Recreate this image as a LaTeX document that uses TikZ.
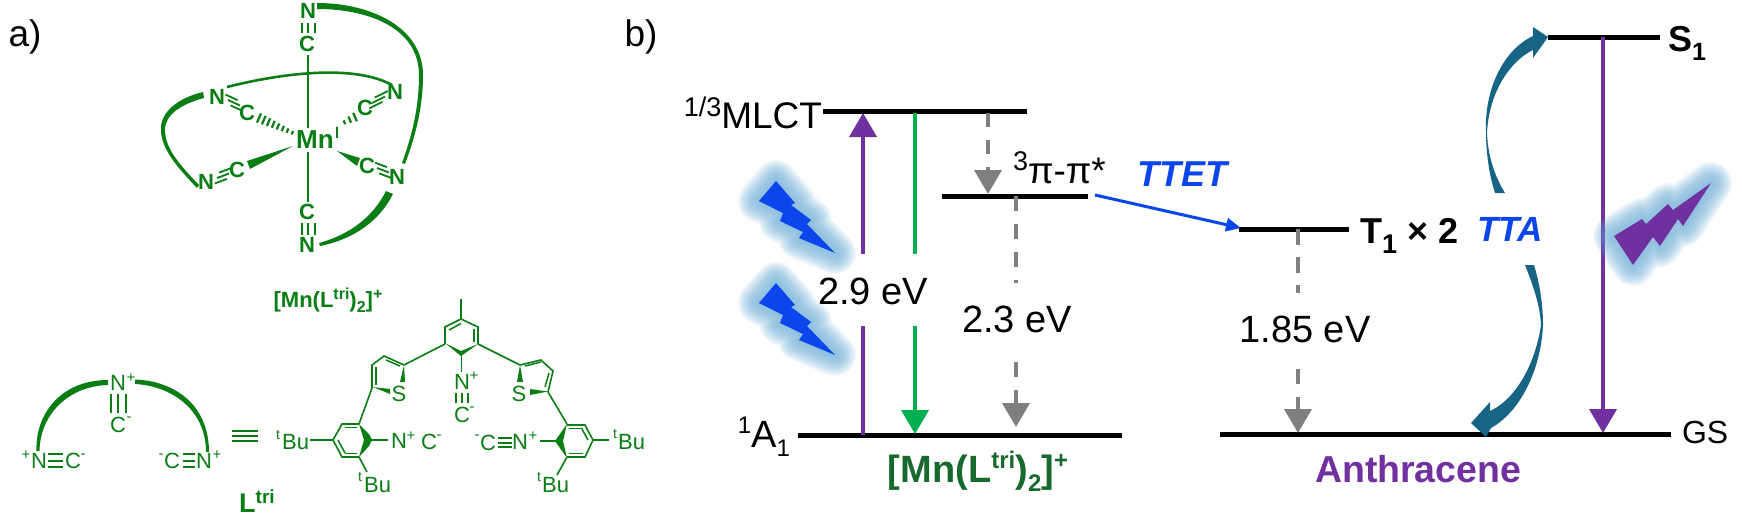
\documentclass[tikz,border=0pt]{standalone}
\usepackage{fontspec}
\setmainfont{Liberation Sans}
\usetikzlibrary{arrows.meta}
\newcommand{\fsz}[1]{\fontsize{#1}{#1}\selectfont}
\definecolor{chem}{RGB}{10,125,20}
\definecolor{mnlab}{RGB}{24,105,45}
\definecolor{vio}{RGB}{112,48,160}
\definecolor{grn}{RGB}{0,176,80}
\definecolor{gry}{RGB}{127,127,127}
\definecolor{blu}{RGB}{10,70,235}
\definecolor{teal2}{RGB}{24,100,132}
\definecolor{glowc}{RGB}{95,165,210}
\newcommand{\glowbolt}[2]{%
  \foreach \w in {42,39,36,33,30,27,24,21,18,14,10,6}{\draw[glowc,opacity=.09,line width=\w pt,line join=round] #1;}
  \fill[#2] #1;}
\tikzset{
  lab/.style={inner sep=0,outer sep=0,font=\fsz{38}},
  levelline/.style={line width=5pt,black},
  cnatom/.style={inner sep=0,text=chem,font=\bfseries\fsz{22}},
  atm/.style={inner sep=0,text=chem,font=\fsz{22}},
  chsup/.style={inner sep=0,text=chem,font=\fsz{15}},
  cb/.style={chem,line width=2.2pt},
  tpl/.style={chem,line width=1.8pt},
  rb/.style={chem,line width=1.6pt},
  tb/.style={chem,line width=1.5pt},
  wdg/.style={fill=chem,draw=none},
  upl/.style={line width=4pt},
  dsh/.style={line width=4pt,gry,dash pattern=on 15pt off 13pt},
  headd/.style={-{Triangle[length=24pt,width=27pt]}},
}
\begin{document}
\begin{tikzpicture}[x=1pt,y=-1pt]
\useasboundingbox (0,0) rectangle (1750,515);
% ---------- panel labels
\node[lab,font=\fsz{37}] (la) at (25,37) {a)};
\node[lab,font=\fsz{37}] (lb) at (641,37) {b)};
% ---------- complex
\node[cnatom] (Ntop) at (308,11) {N};
\node[cnatom] (Ctop) at (307,44) {C};
\node[cnatom] (Cbot) at (307,212) {C};
\node[cnatom] (Nbot) at (307,245) {N};
\node[cnatom] (Nul) at (217,97) {N};
\node[cnatom] (Cul) at (247,113) {C};
\node[cnatom] (Nur) at (395,92) {N};
\node[cnatom] (Cur) at (365,108) {C};
\node[cnatom] (Nll) at (206,182) {N};
\node[cnatom] (Cll) at (237,170) {C};
\node[cnatom] (Clr) at (367,166) {C};
\node[cnatom] (Nlr) at (397,177) {N};
\node[cnatom,font=\bfseries\fsz{26}] (Mn) at (315,140) {Mn};
\node[cnatom,font=\fsz{15}] (MnI) at (337,132) {I};
% M-C axial
\draw[cb] (308,55) -- (308,128);
\draw[cb] (308,152) -- (308,202);
\foreach \x in {302,308,315}{\draw[tpl] (\x,23) -- (\x,33); \draw[tpl] (\x,223) -- (\x,235);}
% triple bonds
\foreach \o in {-6,0,6}{
 \draw[tpl] ([xshift=.42*\o,yshift=-.9*\o]228,100) -- ([xshift=.42*\o,yshift=-.9*\o]240,105.5);
 \draw[tpl] ([xshift=.45*\o,yshift=.9*\o]372,103) -- ([xshift=.45*\o,yshift=.9*\o]385,96.5);
 \draw[tpl] ([xshift=.35*\o,yshift=.9*\o]217,178) -- ([xshift=.35*\o,yshift=.9*\o]229,173.5);
 \draw[tpl] ([xshift=-.35*\o,yshift=.9*\o]377,168) -- ([xshift=-.35*\o,yshift=.9*\o]389,172.5);
}
% hashed bonds
\foreach \t in {0,.14,...,1.01}{
 \draw[chem,line width=2.2pt] ({259+34*\t-1.8*(1.1-.7*\t)},{118+15*\t+4.2*(1.1-.7*\t)}) -- ({259+34*\t+1.8*(1.1-.7*\t)},{118+15*\t-4.2*(1.1-.7*\t)});
}
\foreach \t in {0,.33,.66}{
 \draw[chem,line width=2.2pt] ({355-16*\t-1.5*(1.2-\t)},{117+8*\t-3.5*(1.2-\t)}) -- ({355-16*\t+1.5*(1.2-\t)},{117+8*\t+3.5*(1.2-\t)});
}
\draw[cb] (337,127) -- (337,138);
% wedges
\fill[wdg] (293,146) -- (247,161) -- (250,169) -- cycle;
\fill[wdg] (337,151) -- (360,158) -- (357,166) -- cycle;
% ligand arcs
\fill[chem] (203,92) .. controls (178,98) and (160,112) .. (161,130) .. controls (161,150) and (180,170) .. (197,188) -- (199,185) .. controls (183,168) and (165,150) .. (165,130) .. controls (165,114) and (182,104) .. (204,98) -- cycle;
\draw[chem,line width=2.6pt] (227,87) .. controls (270,76) and (350,62) .. (392,85);
\fill[chem] (317,3) .. controls (372,3) and (423,28) .. (423,75) .. controls (423,110) and (414,140) .. (405,164) -- (402,163) .. controls (411,138) and (419,110) .. (419,75) .. controls (419,30) and (372,9) .. (317,9) -- cycle;
\fill[chem] (393,194) .. controls (380,220) and (355,239) .. (320,246) -- (319,243) .. controls (352,234) and (374,215) .. (386,191) -- cycle;
\node[inner sep=0,text=chem,font=\bfseries\fsz{22}] (mnl) at (328,300) {[Mn(L\raisebox{8pt}{\fsz{16}tri})\raisebox{-5pt}{\fsz{16}2}]\raisebox{8pt}{\fsz{16}+}};
% ---------- schematic ligand
\node[atm] (mN) at (118,383) {N};
\node[chsup] at (131,378) {+};
\node[atm] (mC) at (118,425) {C};
\node[chsup] at (129,419) {-};
\foreach \x in {111,118,126}{\draw[tb] (\x,394) -- (\x,413);}
\node[chsup] at (26,455) {+};
\node[atm] (lN) at (39,461) {N};
\node[atm] (lC) at (73,461) {C};
\node[chsup] at (83,456) {-};
\node[chsup] at (161,456) {-};
\node[atm] (rC) at (172,461) {C};
\node[atm] (rN) at (204,461) {N};
\node[chsup] at (217,455) {+};
\foreach \y in {454,461,467}{\draw[tb] (48,\y) -- (63,\y); \draw[tb] (183,\y) -- (195,\y);}
\fill[chem] (36.5,451) .. controls (35,415) and (60,380) .. (108,380) -- (108,385) .. controls (68,386) and (40,415) .. (39.5,451) -- cycle;
\fill[chem] (135,379.5) .. controls (175,381) and (209,405) .. (209,452) -- (206,452) .. controls (206,410) and (172,386) .. (135,384) -- cycle;
\foreach \y in {431,436,441}{\draw[tb] (232,\y) -- (258,\y);}
\node[inner sep=0,text=chem,font=\bfseries\fsz{27},anchor=base west] (ltri) at (239,512) {L\raisebox{9pt}{\fsz{19}tri}};
% ---------- full ligand: left aryl
\draw[rb] (359,424) -- (342,424) -- (333,440) -- (342,457) -- (359,457);
\fill[wdg] (359,424) -- (369,434) -- (372,440) -- (369,446) -- (359,457) -- (364,440) -- cycle;
\draw[tb] (345,427.5) -- (357,427.5);
\draw[tb] (338,440) -- (345,453);
\draw[tb] (345,453.5) -- (357,453.5);
\draw[rb] (333,440) -- (310,440);
\draw[rb] (368,440) -- (388,440);
\draw[rb] (359,457) -- (367,472);
\draw[rb] (359,424) -- (372,388);
\node[atm,anchor=base west] (bu1) at (282,449) {Bu};
\node[chsup,font=\fsz{14}] at (278,435) {t};
\node[atm,anchor=base west] (bu2) at (364,492) {Bu};
\node[chsup,font=\fsz{14}] at (360,477) {t};
\node[atm] (N1) at (399,441) {N};
\node[chsup] at (411,436) {+};
\node[atm] (C1) at (429,442) {C};
\node[chsup] at (439,437) {-};
% left thiophene
\draw[rb] (372,388) -- (372,365) -- (384,356) -- (404,365);
\draw[tb] (376,367) -- (376,385);
\draw[tb] (386,360) -- (400,366);
\fill[wdg] (404,365) -- (400,382) -- (405,382) -- cycle;
\fill[wdg] (373,387) -- (390,389) -- (390,394) -- cycle;
\node[atm] (S1) at (399,394) {S};
\draw[rb] (404,365) -- (445,344);
% central ring
\draw[rb] (445,344) -- (445,327) -- (461,319) -- (478,327) -- (478,344);
\draw[rb] (461,319) -- (461,299);
\draw[tb] (449,330) -- (461,323.5);
\draw[tb] (474,329) -- (474,342);
\fill[wdg] (445,343) -- (461,351) -- (478,344) -- (461,356) -- cycle;
\draw[rb] (461.5,355) -- (461.5,372);
\node[atm] (N2) at (462,382) {N};
\node[chsup] at (474,376) {+};
\foreach \x in {456,462,468}{\draw[tb] (\x,393) -- (\x,403);}
\node[atm] (C2) at (462,415) {C};
\node[chsup] at (472,409) {-};
\draw[rb] (478,344) -- (520,365);
% right thiophene
\draw[rb] (520,365) -- (541,360) -- (553,371) -- (548,392);
\draw[tb] (525,366) -- (541,362);
\draw[tb] (545,387) -- (549,373);
\fill[wdg] (520,365) -- (517,382) -- (523,382) -- cycle;
\fill[wdg] (548,391.5) -- (530,389) -- (530,395) -- cycle;
\node[atm] (S2) at (519,394) {S};
\draw[rb] (548,392) -- (567,424);
% right aryl
\draw[rb] (567,425) -- (585,425) -- (593,440) -- (585,457) -- (567,457);
\fill[wdg] (567,424) -- (555,441) -- (567,458) -- (563,441) -- cycle;
\draw[tb] (569,428.5) -- (583,428.5);
\draw[tb] (588,440) -- (582,429);
\draw[tb] (569,453.5) -- (583,453.5);
\draw[rb] (593,440) -- (609,440);
\draw[rb] (557,441) -- (540,441);
\draw[rb] (567,457) -- (557,475);
\node[chsup] at (477,437) {-};
\node[atm] (C3) at (488,443) {C};
\foreach \y in {438,443,447}{\draw[tb] (498,\y) -- (512,\y);}
\node[atm] (N3) at (520,442) {N};
\node[chsup] at (533,436) {+};
\node[atm,anchor=base west] (bu3) at (618,449) {Bu};
\node[chsup,font=\fsz{14}] at (615,434) {t};
\node[atm,anchor=base west] (bu4) at (542,492) {Bu};
\node[chsup,font=\fsz{14}] at (539,477) {t};
% ---------- levels
\coordinate (mlctL) at (823,111); \coordinate (mlctR) at (1027,111);
\coordinate (piL) at (942,196); \coordinate (piR) at (1088,196);
\coordinate (t1L) at (1239,229); \coordinate (t1R) at (1349,229);
\coordinate (s1L) at (1548,37); \coordinate (s1R) at (1660,37);
\coordinate (a1L) at (798,435); \coordinate (a1R) at (1122,435);
\coordinate (gsL) at (1220,434); \coordinate (gsR) at (1671,434);
\foreach \a/\b in {mlctL/mlctR,piL/piR,t1L/t1R,s1L/s1R,a1L/a1R,gsL/gsR}{\draw[levelline] (\a) -- (\b);}
% ---------- level labels
\node[lab,anchor=base east,font=\fsz{37}] (mlct) at (822,128) {\raisebox{12pt}{\fsz{27}1/3}MLCT};
\node[lab,anchor=base west,font=\fsz{37}] (pilab) at (1013,183) {\raisebox{13pt}{\fsz{27}3}π-π*};
\node[lab,anchor=base east,font=\fsz{38}] (a1) at (790,447) {\raisebox{14pt}{\fsz{24}1}A\raisebox{-9pt}{\fsz{24}1}};
\node[lab,anchor=base west,font=\bfseries\fsz{36}] (t1) at (1360,243) {T\raisebox{-10pt}{\fsz{27}1} × 2};
\node[lab,anchor=base west,font=\bfseries\fsz{36}] (s1) at (1668,51) {S\raisebox{-9pt}{\fsz{25}1}};
\node[lab,anchor=base west,font=\fsz{32}] (gs) at (1682,443) {GS};
\node[lab] (e29) at (873,291) {2.9 eV};
\node[lab] (e23) at (1017,319) {2.3 eV};
\node[lab] (e185) at (1305,329) {1.85 eV};
\node[lab,anchor=base,text=mnlab,font=\bfseries\fsz{38}] (mnb) at (978,482) {[Mn(L\raisebox{14pt}{\fsz{24}tri})\raisebox{-9pt}{\fsz{24}2}]\raisebox{14pt}{\fsz{24}+}};
\node[lab,anchor=base west,text=vio,font=\bfseries\fsz{37.5}] (anth) at (1315,482) {Anthracene};
\node[lab,text=blu,font=\bfseries\itshape\fsz{36}] (ttet) at (1182,174) {TTET};
\node[lab,text=blu,font=\bfseries\itshape\fsz{35}] (tta) at (1510,229) {TTA};
% ---------- transitions
\coordinate (pu0) at (863,435); \coordinate (pu1) at (863,326); \coordinate (pu2) at (863,254); \coordinate (pu3) at (863,113);
\draw[upl,vio] (pu0) -- (pu1);
\draw[upl,vio,headd] (pu2) -- (pu3);
\coordinate (gu0) at (915,113); \coordinate (gu1) at (915,254); \coordinate (gu2) at (915,326); \coordinate (gu3) at (915,434);
\draw[upl,grn] (gu0) -- (gu1);
\draw[upl,grn,headd] (gu2) -- (gu3);
\coordinate (d1a) at (988,113); \coordinate (d1b) at (988,194);
\draw[dsh,dash pattern=on 14pt off 13pt,headd] (d1a) -- (d1b);
\coordinate (d2a) at (1016,196); \coordinate (d2b) at (1016,283); \coordinate (d2c) at (1016,362); \coordinate (d2d) at (1016,427);
\draw[dsh] (d2a) -- (d2b);
\draw[dsh,headd] (d2c) -- (d2d);
\coordinate (d3a) at (1298,229); \coordinate (d3b) at (1298,293); \coordinate (d3c) at (1298,369); \coordinate (d3d) at (1298,433);
\draw[dsh,dash pattern=on 16pt off 12pt] (d3a) -- (d3b);
\draw[dsh,headd] (d3c) -- (d3d);
\coordinate (sv0) at (1603,37); \coordinate (sv1) at (1603,433);
\draw[upl,vio,headd] (sv0) -- (sv1);
\coordinate (tt0) at (1095,195); \coordinate (tt1) at (1241,228);
\draw[blu,line width=3pt,-{Triangle[length=15pt,width=13pt]}] (tt0) -- (tt1);
% ---------- TTA arrows
\fill[teal2] (1495,193) .. controls (1490,178) and (1486,155) .. (1486,133) .. controls (1484,90) and (1503,50) .. (1533,36) -- (1533,27) -- (1548,37) -- (1533,58) -- (1533,50) .. controls (1512,60) and (1489,90) .. (1487,133) .. controls (1488,160) and (1497,180) .. (1505,193) -- cycle;
\fill[teal2] (1525,265) .. controls (1533,285) and (1540,305) .. (1541,325) .. controls (1536,360) and (1518,398) .. (1490,411) -- (1490,402) -- (1471,423) -- (1486,437) -- (1491,428) .. controls (1520,412) and (1541,370) .. (1543,325) .. controls (1543,305) and (1540,285) .. (1534,265) -- cycle;
% ---------- lightning
\glowbolt{(776,181) -- (795,203) -- (791,205) -- (811,220) -- (807,224) -- (835,253) -- (799,238) -- (803,232) -- (780,221) -- (783,213) -- (759,201) -- cycle}{blu}
\glowbolt{(776,283) -- (795,305) -- (791,307) -- (811,322) -- (807,326) -- (835,355) -- (799,340) -- (803,334) -- (780,323) -- (783,315) -- (759,303) -- cycle}{blu}
\glowbolt{(1614,236) -- (1642,219) -- (1646,224) -- (1668,204) -- (1673,210) -- (1711,183) -- (1683,226) -- (1678,219) -- (1660,246) -- (1653,237) -- (1633,265) -- cycle}{vio}
\end{tikzpicture}
\end{document}
